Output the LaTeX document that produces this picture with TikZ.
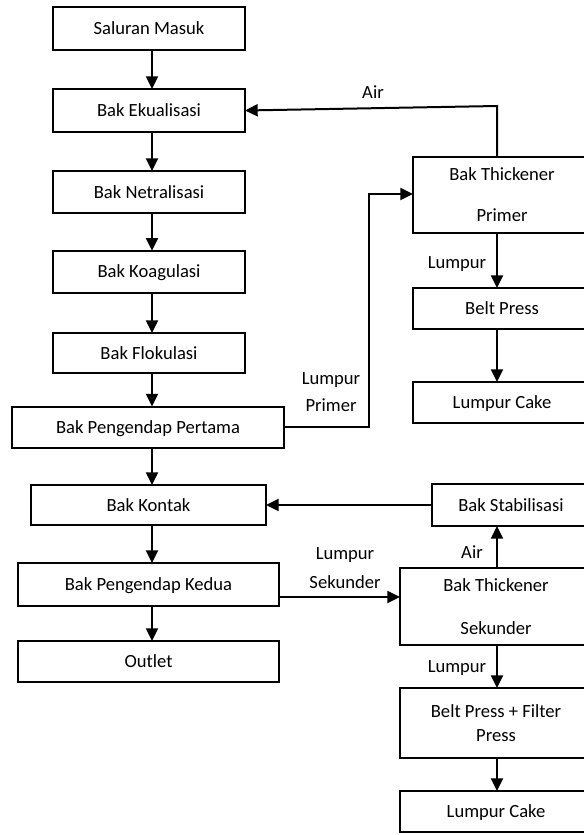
\documentclass[tikz,border=0pt]{standalone}
\usepackage{fontspec}
\setmainfont{Carlito}
\usetikzlibrary{arrows.meta}
\begin{document}
\begin{tikzpicture}[x=0.75pt,y=-0.75pt,
  bx/.style 2 args={draw, line width=1.5pt, minimum width=#1*0.75pt, minimum height=#2*0.75pt,
    inner sep=0pt, outer sep=0pt, align=center, text height=12.5pt, text depth=3.5pt,
    font=\fontsize{13.95}{16.7}\selectfont},
  ml/.style={text height={}, text depth={}},
  arr/.style={line width=1.5pt, -{Triangle[length=9.5pt,width=9pt]}},
  lbl/.style={anchor=base, inner sep=0pt, font=\fontsize{13.95}{16.7}\selectfont}]
\useasboundingbox (0,0) rectangle (584,835);
\fill[white] (0,0) rectangle (584,835);
\clip (0,0) rectangle (584,835);
% left column
\node[bx={192}{43}] (sm) at (149,28.5) {Saluran Masuk};
\node[bx={192}{43}] (eq) at (149,110.5) {Bak Ekualisasi};
\node[bx={192}{42}] (ne) at (149,192) {Bak Netralisasi};
\node[bx={192}{42}] (ko) at (149,271.7) {Bak Koagulasi};
\node[bx={192}{40}] (fl) at (149,353) {Bak Flokulasi};
\node[bx={272}{41}] (pp) at (148,427) {Bak Pengendap Pertama};
\node[bx={235}{40}] (kt) at (148.5,505) {Bak Kontak};
\node[bx={261}{43}] (kd) at (148.5,584.5) {Bak Pengendap Kedua};
\node[bx={261}{41}] (ou) at (148.5,661.5) {Outlet};
% right upper column
\node[bx={178}{76}, ml, font=\fontsize{13.95}{30.75}\selectfont] (tp) at (502,195) {Bak Thickener\\Primer};
\node[bx={178}{41}] (bp) at (502,308.5) {Belt Press};
\node[bx={178}{41}] (lc1) at (502,402.5) {Lumpur Cake};
% right lower column
\node[bx={158}{42}] (st) at (511,505) {Bak Stabilisasi};
\node[bx={192}{77}, ml, font=\fontsize{13.95}{32}\selectfont] (ts) at (496,606.5) {Bak Thickener\\Sekunder};
\node[bx={192}{70}, ml, font=\fontsize{13.95}{18}\selectfont] (bfp) at (496,723) {Belt Press + Filter\\Press};
\node[bx={192}{41}] (lc2) at (496,811.5) {Lumpur Cake};
% guide coordinates
\coordinate (ax) at (152,0);
\coordinate (bx1) at (497,0);
\coordinate (bx2) at (497,0);
\coordinate (airy) at (0,106);
\coordinate (lpx) at (369,0);
\coordinate (lpy) at (0,194);
\coordinate (lsy) at (0,597);
% main column arrows
\draw[arr] (sm.south -| ax) -- (eq.north -| ax);
\draw[arr] (eq.south -| ax) -- (ne.north -| ax);
\draw[arr] (ne.south -| ax) -- (ko.north -| ax);
\draw[arr] (ko.south -| ax) -- (fl.north -| ax);
\draw[arr] (fl.south -| ax) -- (pp.north -| ax);
\draw[arr] (pp.south -| ax) -- (kt.north -| ax);
\draw[arr] (kt.south -| ax) -- (kd.north -| ax);
\draw[arr] (kd.south -| ax) -- (ou.north -| ax);
% Air return (primer)
\draw[arr] (tp.north -| bx1) -- (airy -| bx1) -- (eq.east);
\node[lbl] (lair1) at (373,98) {Air};
% Lumpur primer
\draw[arr] (pp.east) -- (pp.east -| lpx) -- (lpy -| lpx) -- (lpy -| tp.west);
\node[lbl] (llp1) at (331,384) {Lumpur};
\node[lbl] (llp2) at (331,411) {Primer};
% primer column
\draw[arr] (tp.south -| bx1) -- (bp.north -| bx1);
\node[lbl] (lpl1) at (457,268) {Lumpur};
\draw[arr] (bp.south -| bx1) -- (lc1.north -| bx1);
% secondary
\draw[arr] (st.west) -- (kt.east);
\draw[arr] (ts.north -| bx2) -- (st.south -| bx2);
\node[lbl] (lair2) at (472,558) {Air};
\draw[arr] (lsy -| kd.east) -- (lsy -| ts.west);
\node[lbl] (lls1) at (345,559) {Lumpur};
\node[lbl] (lls2) at (345,588) {Sekunder};
\draw[arr] (ts.south -| bx2) -- (bfp.north -| bx2);
\node[lbl] (lsl1) at (457,672) {Lumpur};
\draw[arr] (bfp.south -| bx2) -- (lc2.north -| bx2);
\end{tikzpicture}
\end{document}
